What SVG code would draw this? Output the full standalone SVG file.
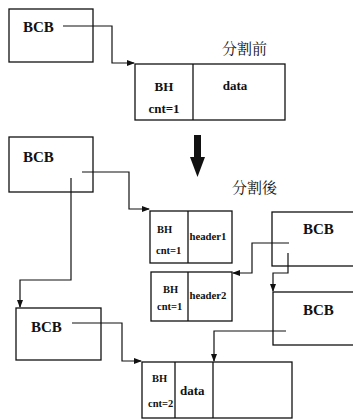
<svg xmlns="http://www.w3.org/2000/svg" width="353" height="420" viewBox="0 0 353 420">
<style>
.box{fill:none;stroke:#111;stroke-width:1.3}
.ln{fill:none;stroke:#111;stroke-width:1.2}
.t{font-family:"Liberation Serif","Noto Sans CJK SC",serif;fill:#111;font-weight:bold}
.big{font-size:15px}
.sm{font-size:13px}
.xs{font-size:10.5px}
.cjk{font-family:"Noto Serif CJK SC","Noto Sans CJK SC",serif;font-size:15px;fill:#111}
</style>
<defs>
<marker id="ah" markerWidth="8" markerHeight="6" refX="7" refY="3" orient="auto" markerUnits="userSpaceOnUse">
<path d="M0,0 L8,3 L0,6 Z" fill="#111"/>
</marker>
</defs>
<rect width="353" height="420" fill="#fff"/>
<g id="connectors">
<path class="ln" d="M63,26 H112 V63 H134" marker-end="url(#ah)"/>
<path class="ln" d="M82,172 H129 V209 H149" marker-end="url(#ah)"/>
<path class="ln" d="M71,178 V280 H20 V307" marker-end="url(#ah)"/>
<path class="ln" d="M289,243 H252 V273 H233" marker-end="url(#ah)"/>
<path class="ln" d="M288,253 V273 H273 V291" marker-end="url(#ah)"/>
<path class="ln" d="M286,331 H214 V361" marker-end="url(#ah)"/>
<path class="ln" d="M72,323 H122 V361 H141" marker-end="url(#ah)"/>
<path d="M194,135 H201 V157 H205 L197.5,177 L190,157 H194 Z" fill="#111"/>
</g>
<g id="bcb1"><rect class="box" x="9" y="9" width="84" height="53"/><text class="t big" x="23" y="32">BCB</text></g>
<g id="blk1"><rect class="box" x="135" y="64" width="150" height="56"/><line class="box" x1="193" y1="64" x2="193" y2="120"/>
<text class="t sm" x="164" y="91" text-anchor="middle">BH</text><text class="t sm" x="164" y="113" text-anchor="middle">cnt=1</text>
<text class="t sm" x="235" y="90" text-anchor="middle">data</text></g>
<text class="cjk" x="222" y="54">分割前</text>
<text class="cjk" x="232" y="193">分割後</text>
<g id="bcb2"><rect class="box" x="9" y="137" width="84" height="55"/><text class="t big" x="23" y="162">BCB</text></g>
<g id="h1"><rect class="box" x="150" y="211" width="82" height="52"/><line class="box" x1="188" y1="211" x2="188" y2="263"/>
<text class="t xs" x="157" y="233">BH</text><text class="t xs" x="156" y="254">cnt=1</text><text class="t xs" x="189.5" y="240" textLength="37" lengthAdjust="spacingAndGlyphs">header1</text></g>
<g id="h2"><rect class="box" x="151" y="272" width="81" height="49"/><line class="box" x1="188" y1="272" x2="188" y2="321"/>
<text class="t xs" x="163" y="293">BH</text><text class="t xs" x="157" y="310">cnt=1</text><text class="t xs" x="189.5" y="299" textLength="37" lengthAdjust="spacingAndGlyphs">header2</text></g>
<g id="bcb3"><rect class="box" x="272" y="212" width="90" height="54"/><text class="t big" x="303" y="234">BCB</text></g>
<g id="bcb4"><rect class="box" x="273" y="292" width="90" height="53"/><text class="t big" x="303" y="315">BCB</text></g>
<g id="bcb5"><rect class="box" x="16" y="308" width="85" height="52"/><text class="t big" x="31" y="332">BCB</text></g>
<g id="blk2"><rect class="box" x="142" y="362" width="150" height="56"/><line class="box" x1="175" y1="362" x2="175" y2="418"/><line class="box" x1="213" y1="362" x2="213" y2="418"/>
<text class="t xs" x="152" y="382">BH</text><text class="t xs" x="148" y="407">cnt=2</text><text class="t sm" x="180" y="395">data</text></g>
</svg>
